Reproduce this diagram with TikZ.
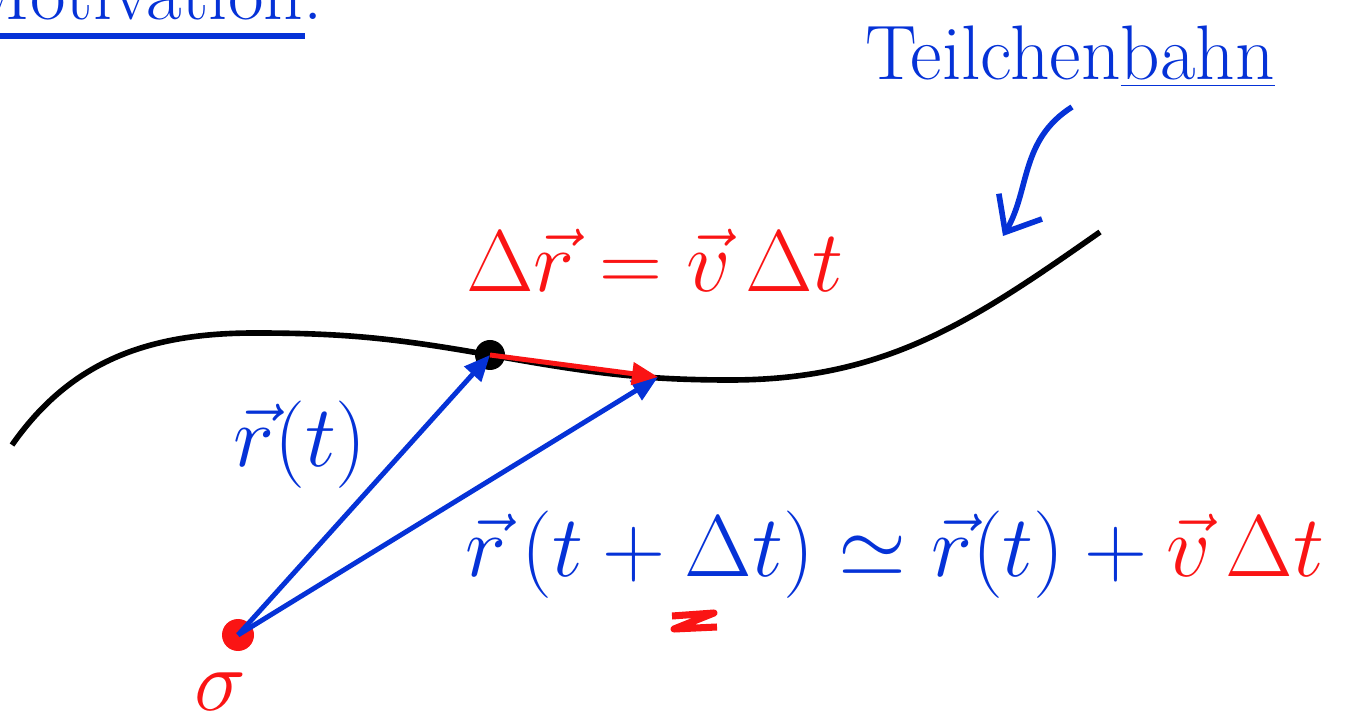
\documentclass[tikz,border=0pt]{standalone}
\usetikzlibrary{arrows.meta}
\definecolor{inkblue}{RGB}{5,50,215}
\definecolor{inkred}{RGB}{250,20,20}
\begin{document}
\begin{tikzpicture}[
        >={Triangle[length=2.6mm,width=2.2mm]}, % arrow tips
        vec/.style={inkblue, line width=1.4pt, ->},
        point/.style={circle, inner sep=0pt, minimum size=3mm}, % dots
        txt/.style={font=\fontsize{22}{26}\selectfont},
        eqn/.style={font=\fontsize{28}{32}\selectfont}
    ]
    \useasboundingbox (0,0) rectangle (13.46,-7.2);

    % cut-off heading
    \node[txt, inkblue, anchor=base east] (head) at (3.35,-0.2) {Motivation:};
    \draw[inkblue, line width=1.5pt] (0,-0.36) -- (3.05,-0.36);

    % points
    \coordinate (P) at (4.9,-3.55);
    \coordinate (Q) at (6.58,-3.77);

    % trajectory
    \draw[line width=1.6pt] (0.12,-4.45) to[out=55,in=180] (2.55,-3.33)
        to[out=0,in=170] (P) to[out=-10,in=180] (7.3,-3.8)
        to[out=0,in=215] (11.0,-2.32);

    \node[point, fill=black] (p) at (P) {};
    \node[point, fill=inkred, minimum size=3.2mm] (o) at (2.38,-6.35) {};
    \node[eqn, inkred, inner sep=0pt] (olab) at (2.2,-6.92) {$\sigma$};

    % vectors
    \draw[vec] (o.center) -- (P);
    \draw[vec] (o.center) -- (Q);
    \draw[inkred, line width=1.4pt, ->] (p.center) -- (Q);

    % labels
    \node[eqn, inkred] (dr) at (6.55,-2.6) {$\Delta\vec{r} = \vec{v}\,\Delta t$};
    \node[eqn, inkblue] (rt) at (3.0,-4.45) {$\vec{r}(t)$};
    \node[eqn, inkblue] (rdt) at (8.95,-5.55)
        {$\vec{r}\,(t+\Delta t) \simeq \vec{r}(t) + {\color{inkred}\vec{v}\,\Delta t}$};
    \draw[inkred, line width=2pt, line join=round]
        (6.72,-6.16) -- (7.14,-6.13) -- (6.74,-6.29) -- (7.17,-6.27);

    % Teilchenbahn with pointer
    \node[txt, inkblue, anchor=base] (bahn) at (10.7,-0.8) {Teilchen\underline{bahn}};
    \coordinate (tip) at (10.03,-2.36);
    \draw[inkblue, line width=1.6pt, -{Straight Barb[length=3mm,width=5mm]}]
        (10.72,-1.07) .. controls (10.2,-1.4) and (10.3,-1.9) .. (tip);
\end{tikzpicture}
\end{document}
